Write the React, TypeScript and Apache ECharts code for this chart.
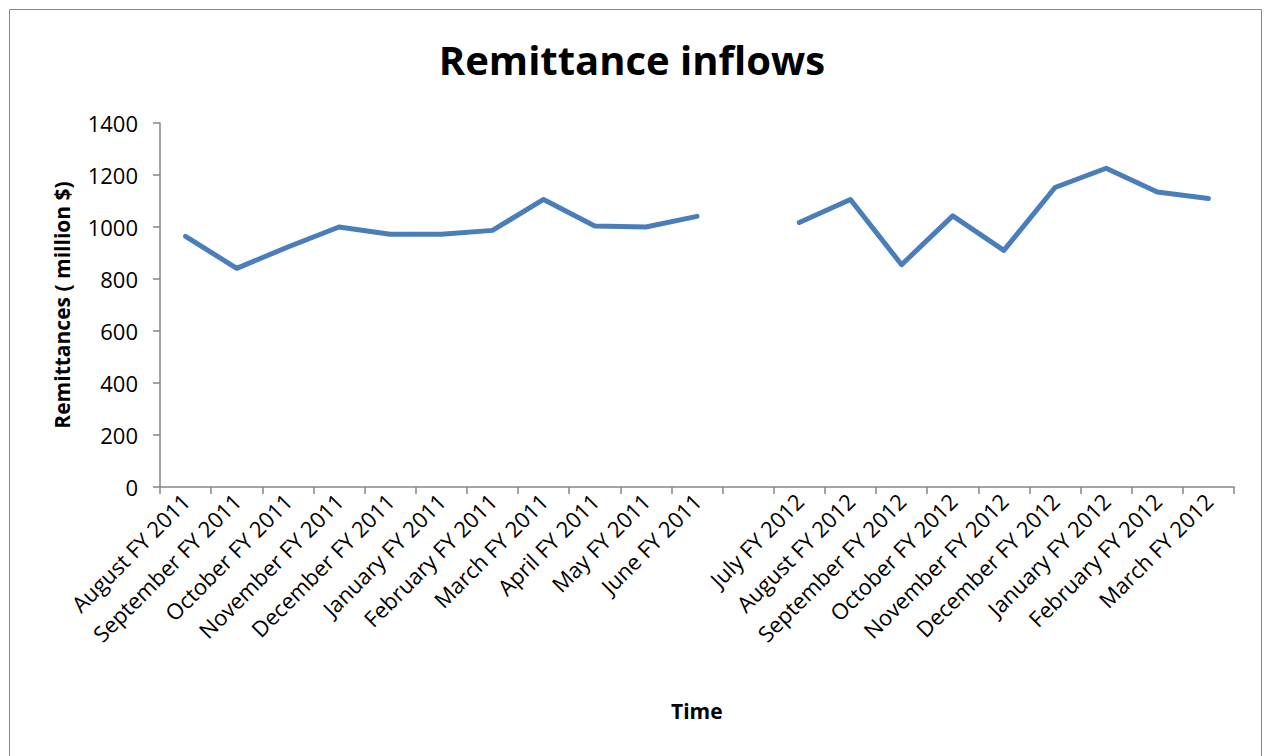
import React, { useEffect, useRef } from "react";
import * as echarts from "echarts";

const categories: string[] = [
  "August FY 2011", "September FY 2011", "October FY 2011", "November FY 2011",
  "December FY 2011", "January FY 2011", "February FY 2011", "March FY 2011",
  "April FY 2011", "May FY 2011", "June FY 2011", "",
  "July FY 2012", "August FY 2012", "September FY 2012", "October FY 2012",
  "November FY 2012", "December FY 2012", "January FY 2012", "February FY 2012",
  "March FY 2012",
];

const remittances: (number | null)[] = [
  964, 841, 923, 1000, 972, 972, 987, 1106, 1004, 1000, 1041, null,
  1017, 1106, 855, 1043, 910, 1152, 1226, 1135, 1110,
];

const FONT = "'Open Sans', 'Noto Sans', sans-serif";

export default function App() {
  const ref = useRef<HTMLDivElement>(null);
  useEffect(() => {
    if (!ref.current) return;
    const chart = echarts.init(ref.current, null, { renderer: "svg" });
    chart.setOption({
      animation: false,
      backgroundColor: "#ffffff",
      title: {
        text: "Remittance inflows",
        left: "center",
        top: 34,
        textStyle: { fontFamily: FONT, fontSize: 40, fontWeight: "bold", color: "#000" },
      },
      graphic: [
        {
          type: "rect",
          shape: { x: 9.5, y: 9.5, width: 1252, height: 760 },
          style: { fill: "none", stroke: "#888888", lineWidth: 1 },
          silent: true,
        },
        {
          type: "text",
          left: 671,
          top: 700,
          style: { text: "Time", fontFamily: FONT, fontSize: 21, fontWeight: "bold", fill: "#000" },
        },
      ],
      grid: { left: 160, right: 30, top: 123, bottom: 269, containLabel: false },
      xAxis: {
        type: "category",
        data: categories,
        boundaryGap: true,
        axisLine: { lineStyle: { color: "#868686", width: 1.5 } },
        axisTick: { show: true, alignWithLabel: false, length: 7, interval: 0, lineStyle: { color: "#868686", width: 1.5 } },
        axisLabel: {
          interval: 0,
          rotate: 45,
          margin: 10,
          fontFamily: FONT,
          fontSize: 22,
          color: "#000",
        },
        splitLine: { show: false },
      },
      yAxis: {
        type: "value",
        min: 0,
        max: 1400,
        interval: 200,
        name: "Remittances ( million $)",
        nameLocation: "middle",
        nameGap: 88,
        nameRotate: 90,
        nameTextStyle: { fontFamily: FONT, fontSize: 21, fontWeight: "bold", color: "#000" },
        axisLine: { show: true, lineStyle: { color: "#868686", width: 1.5 } },
        axisTick: { show: true, length: 7, lineStyle: { color: "#868686", width: 1.5 } },
        axisLabel: {
          fontFamily: FONT,
          fontSize: 22,
          color: "#000",
          margin: 22,
          formatter: (v: number) => String(v),
        },
        splitLine: { show: false },
      },
      series: [
        {
          type: "line",
          data: remittances,
          connectNulls: false,
          showSymbol: false,
          symbol: "none",
          lineStyle: { color: "#4A7EBB", width: 5, join: "round", cap: "round" },
          itemStyle: { color: "#4A7EBB" },
        },
      ],
    });
    return () => chart.dispose();
  }, []);
  return (
    <div
      ref={ref}
      style={{ position: "fixed", left: 0, top: 0, width: 1264, height: 756 }}
    />
  );
}
